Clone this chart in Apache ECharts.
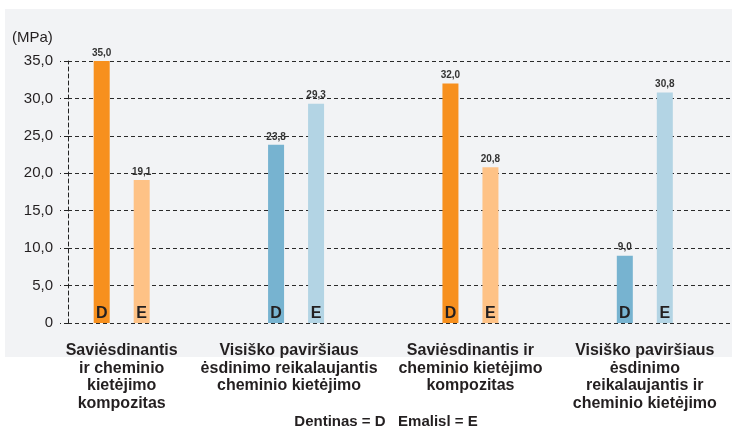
<!DOCTYPE html>
<html>
<head>
<meta charset="utf-8">
<script src="https://cdn.jsdelivr.net/npm/echarts@6/dist/echarts.min.js"></script>
<style>
  html, body { margin: 0; padding: 0; background: #fff; }
  #chart { width: 732px; height: 429px; }
</style>
</head>
<body>
<div id="chart"></div>
<script>
// duomenys
const categories = [
  'Saviėsdinantis\nir cheminio\nkietėjimo\nkompozitas',
  'Visiško paviršiaus\nėsdinimo reikalaujantis\ncheminio kietėjimo',
  'Saviėsdinantis ir\ncheminio kietėjimo\nkompozitas',
  'Visiško paviršiaus\nėsdinimo\nreikalaujantis ir\ncheminio kietėjimo'
]
const dentinas = [35.0, 23.8, 32.0, 9.0]
const emalis = [19.1, 29.3, 20.8, 30.8]
const yTicks = [0, 5, 10, 15, 20, 25, 30, 35]

const colorsD = ['#f7901e', '#77b3d0', '#f7901e', '#77b3d0']
const colorsE = ['#fec286', '#b3d4e4', '#fec286', '#b3d4e4']

const fmt = v => (v === 0 ? '0' : v.toFixed(1).replace('.', ','))
const font = 'Liberation Sans, Arial, Helvetica, sans-serif'

const myChart = echarts.init(document.getElementById('chart'))

// raidės D / E prie stulpelio apačios
const letterPoints = letter => categories.map((c, i) => ({ coord: [i, 0], value: letter }))

const mkSeries = (name, values, colors, letter) => ({
  name: name,
  type: 'bar',
  xAxisIndex: 1,
  yAxisIndex: 1,
  barWidth: 16,
  barGap: '150%',
  data: values.map((v, i) => ({ value: v, itemStyle: { color: colors[i] } })),
  label: {
    show: true,
    position: 'top',
    distance: 3,
    fontFamily: font,
    fontSize: 10,
    fontWeight: 'bold',
    color: '#333',
    formatter: p => fmt(p.value)
  },
  markPoint: {
    symbol: 'rect',
    symbolSize: 0,
    silent: true,
    label: {
      show: true,
      formatter: letter,
      offset: [0, -9],
      fontFamily: font,
      fontSize: 16,
      fontWeight: 'bold',
      color: '#231f20'
    },
    data: letterPoints(letter)
  }
})

const labelText = { fontFamily: font, fontSize: 16, fontWeight: 'bold', lineHeight: 17.5, color: '#231f20' }

myChart.setOption({
  animation: false,
  textStyle: { fontFamily: font },
  graphic: [
    {
      type: 'rect',
      z: -10,
      silent: true,
      shape: { x: 5, y: 9, width: 727, height: 348 },
      style: { fill: '#f2f3f5' }
    },
    {
      type: 'text',
      left: 12,
      top: 30,
      style: { text: '(MPa)', fontFamily: font, fontSize: 15, fill: '#231f20' }
    },
    {
      type: 'text',
      x: 386,
      y: 414,
      style: {
        text: 'Dentinas = D   Emalisl = E',
        align: 'center',
        fontFamily: font,
        fontSize: 15,
        fontWeight: 'bold',
        fill: '#231f20'
      }
    }
  ],
  grid: [
    { left: 68, right: 0, top: 61, bottom: 106 },
    { left: 34.5, width: 700, top: 61, bottom: 106 }
  ],
  xAxis: [
    { type: 'value', gridIndex: 0, show: false, min: 0, max: 1 },
    {
      type: 'category',
      gridIndex: 1,
      data: categories,
      axisLine: { show: false },
      axisTick: { show: false },
      axisLabel: Object.assign({
        interval: 0,
        margin: 19,
        formatter: (v, i) => (i === 1 ? '{s|' + v + '}' : v),
        rich: { s: Object.assign({ padding: [0, 14, 0, 0] }, labelText) }
      }, labelText)
    }
  ],
  yAxis: [
    {
      type: 'value',
      gridIndex: 0,
      min: yTicks[0],
      max: yTicks[yTicks.length - 1],
      interval: 5,
      axisLine: { show: true, lineStyle: { color: '#222', width: 1, type: [4, 3] } },
      axisTick: { show: true, length: 8, lineStyle: { color: '#222', width: 1, type: [4, 3] } },
      axisLabel: { margin: 15, fontFamily: font, fontSize: 15, color: '#231f20', formatter: fmt },
      splitLine: { show: true, lineStyle: { color: '#2a2a2a', width: 1, type: [4, 3] } }
    },
    {
      type: 'value',
      gridIndex: 1,
      min: yTicks[0],
      max: yTicks[yTicks.length - 1],
      interval: 5,
      show: false,
      splitLine: { show: false }
    }
  ],
  series: [
    mkSeries('Dentinas', dentinas, colorsD, 'D'),
    mkSeries('Emalis', emalis, colorsE, 'E')
  ]
})
</script>
</body>
</html>
